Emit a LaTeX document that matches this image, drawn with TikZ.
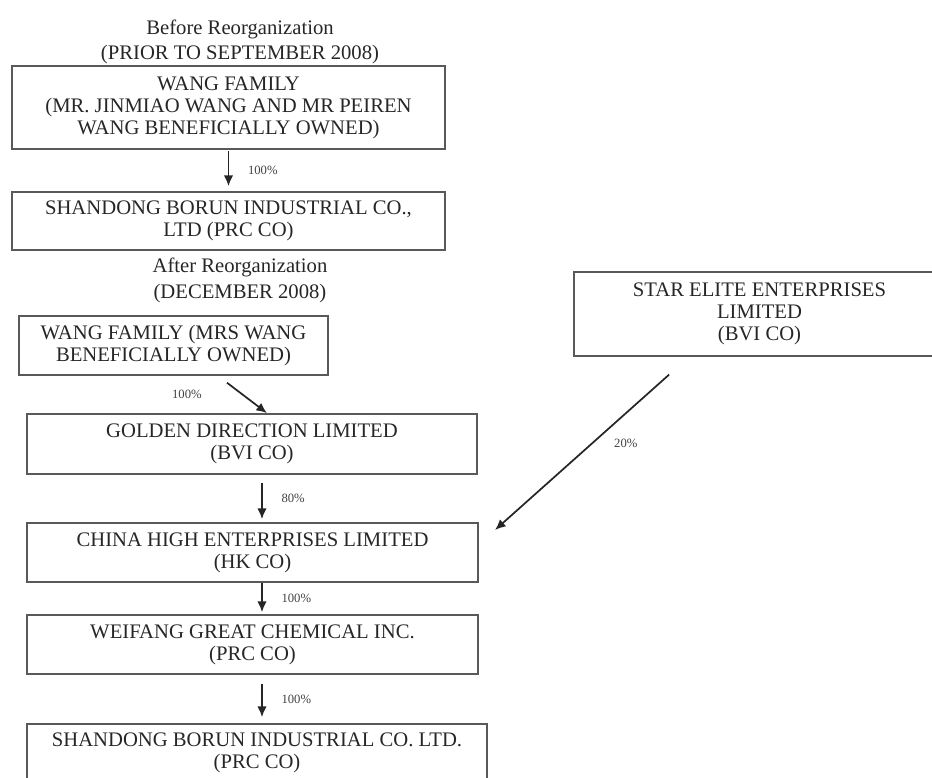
\documentclass[tikz,border=0pt]{standalone}
\usepackage{fontspec}
\setmainfont{Liberation Serif}
\usetikzlibrary{arrows.meta}

\begin{document}
\begin{tikzpicture}[x=0.75pt,y=-0.75pt,
    entity/.style={draw=black!65,line width=1.3pt,align=center,inner sep=0pt,text=black!85,
      font=\fontsize{15.5}{16.5}\selectfont},
    heading/.style={align=center,inner sep=0pt,text=black!85,font=\fontsize{15.5}{19}\selectfont},
    pct/.style={inner sep=0pt,text=black!75,font=\fontsize{9.5}{10}\selectfont},
    own/.style={-{Latex[length=8pt,width=7pt]},line width=1.3pt,black!85}]
\useasboundingbox (0,0) rectangle (932,778);
% before reorganization
\node[heading] (titlebefore) at (240,42) {Before Reorganization\\(PRIOR TO SEPTEMBER 2008)};
\node[entity,minimum width=324.75pt,minimum height=62.25pt] (wangold) at (228.5,107.5)
  {WANG FAMILY\\(MR. JINMIAO WANG AND MR PEIREN\\WANG BENEFICIALLY OWNED)};
\node[entity,minimum width=324.75pt,minimum height=43.5pt] (borunold) at (228.5,221)
  {SHANDONG BORUN INDUSTRIAL CO.,\\LTD (PRC CO)};
\draw[own,shorten <=0.75pt,shorten >=3.75pt] (wangold) -- node[pct,right=14pt] {100\%} (borunold);
% after reorganization
\node[heading] (titleafter) at (240,280.5) {After Reorganization\\(DECEMBER 2008)};
\node[entity,minimum width=231.75pt,minimum height=44.25pt] (wangnew) at (173.5,345.5)
  {WANG FAMILY (MRS WANG\\BENEFICIALLY OWNED)};
\node[entity,minimum width=337.5pt,minimum height=45pt] (golden) at (252,444)
  {GOLDEN DIRECTION LIMITED\\(BVI CO)};
\node[entity,minimum width=338.25pt,minimum height=44.25pt] (chinahigh) at (252.5,552.5)
  {CHINA HIGH ENTERPRISES LIMITED\\(HK CO)};
\node[entity,minimum width=338.25pt,minimum height=44.25pt] (weifang) at (252.5,644.5)
  {WEIFANG GREAT CHEMICAL INC.\\(PRC CO)};
\node[entity,minimum width=345pt,minimum height=42.75pt] (borunnew) at (257,752.5)
  {SHANDONG BORUN INDUSTRIAL CO. LTD.\\(PRC CO)};
\node[entity,minimum width=278.25pt,minimum height=63pt] (starelite) at (759.5,314)
  {STAR ELITE ENTERPRISES\\LIMITED\\(BVI CO)};
\coordinate (starhead) at (495,530);
% ownership arrows
\draw[own,shorten <=8.5pt] (wangnew.south -| 218,0) -- node[pct,left=30pt] {100\%} (golden.north -| 267,0);
\draw[own,shorten <=6pt,shorten >=2.25pt] (golden.south -| 262,0) -- node[pct,right=14pt] {80\%} (chinahigh.north -| 262,0);
\draw[own,shorten >=1.5pt] (chinahigh.south -| 262,0) -- node[pct,right=14pt] {100\%} (weifang.north -| 262,0);
\draw[own,shorten <=6.75pt,shorten >=4.5pt] (weifang.south -| 262,0) -- node[pct,right=14pt] {100\%} (borunnew.north -| 262,0);
\draw[own,shorten <=20pt] (starelite.south -| 689,0) -- node[pct,right=16pt] {20\%} (starhead);
\end{tikzpicture}
\end{document}
